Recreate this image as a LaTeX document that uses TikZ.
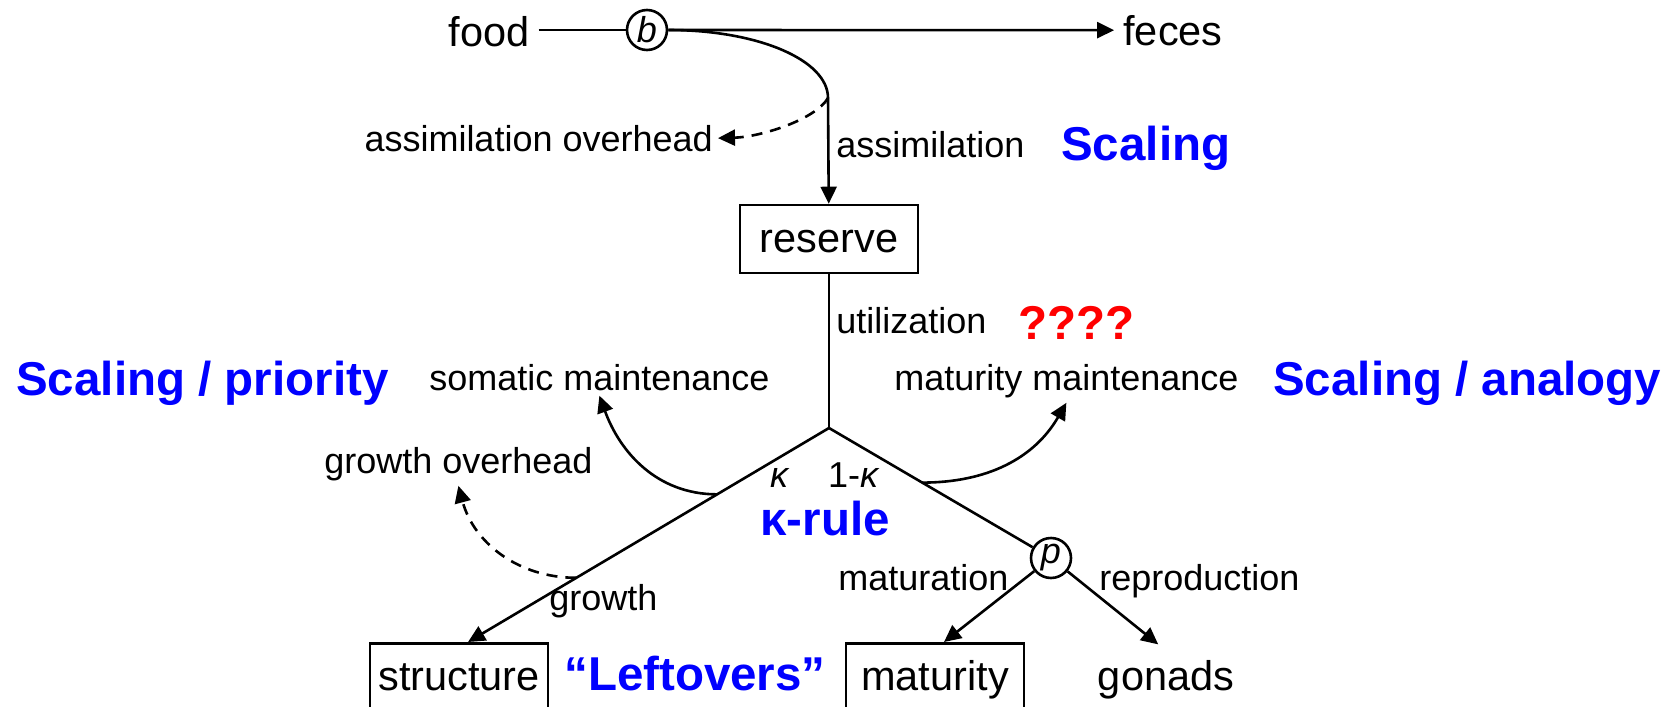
\documentclass[tikz,border=0pt]{standalone}
\usepackage{fontspec}
\setmainfont{Liberation Sans}
\usepackage{tikz}
\usetikzlibrary{arrows.meta,calc,positioning}

\begin{document}
\begin{tikzpicture}[x=0.5pt,y=0.5pt,line width=1.3pt,
  >={Triangle[length=8.5pt,width=8pt]},
  lbl/.style={font=\fontsize{18}{20}\selectfont,inner sep=2pt},
  big/.style={font=\fontsize{20.75}{24}\selectfont,inner sep=4pt},
  note/.style={font=\fontsize{23.75}{28}\selectfont\bfseries,text=blue,inner sep=0pt},
  stock/.style={draw,big,inner xsep=3pt,minimum width=89pt,minimum height=34pt,text height=15pt,text depth=2pt},
  junc/.style={draw,circle,minimum size=20pt,inner sep=0pt,font=\fontsize{18}{20}\selectfont\itshape},
  overhead/.style={dash pattern=on 5.5pt off 4pt}]
\clip (0,0) rectangle (1672,-707);
\node[big,anchor=base] (food) at (489,-46) {food};
\node[junc] (b) at (647,-30) {b};
\node[big,anchor=base] (feces) at (1173,-45) {feces};
\coordinate (asm) at (828,-98);
\node[stock] (reserve) at (829,-239) {reserve};
\node[lbl,anchor=base east] (asmovh) at (718,-151) {assimilation overhead};
\node[lbl,anchor=base west] (asmlbl) at (831,-157) {assimilation};
\node[note,anchor=base west] (scal) at (1060,-160) {Scaling};
\node[lbl,anchor=base west] (util) at (831,-333) {utilization};
\node[note,text=red,anchor=base west] (unknown) at (1017,-339) {????};
\node[lbl,anchor=base west] (soma) at (424,-390) {somatic maintenance};
\node[lbl,anchor=base west] (matm) at (889,-390) {maturity maintenance};
\node[note,anchor=base west] (prio) at (15,-395) {Scaling / priority};
\node[note,anchor=base west] (analogy) at (1272,-395) {Scaling / analogy};
\node[lbl,anchor=base west] (govh) at (319,-473) {growth overhead};
\coordinate (apex) at (829,-428);
\node[lbl,anchor=base] (kap) at (779,-487) {\itshape κ};
\node[lbl,anchor=base] (onekap) at (853,-487) {1-{\itshape κ}};
\node[note,anchor=base] (krule) at (825,-535) {κ-rule};
\node[junc] (p) at (1051,-558) {p};
\node[lbl,anchor=base west] (grow) at (544,-610) {growth};
\node[lbl,anchor=base west] (matu) at (833,-590) {maturation};
\node[lbl,anchor=base west] (repr) at (1094,-590) {reproduction};
\node[stock,anchor=north] (struct) at (459,-642) {structure};
\node[stock,anchor=north] (maturity) at (935,-642) {maturity};
\node[big,anchor=base] (gonads) at (1166,-690) {gonads};
\node[note,anchor=base west] (leftover) at (563,-690) {“Leftovers”};

\draw (food.east |- b) -- (b);
\draw[->] (b) -- (feces);
\draw[->] (b.east) .. controls (758,-30) and (828,-60) .. (asm) -- (reserve);
\draw[overhead,->] (asm) .. controls (815,-120) and (760,-137) .. (asmovh.east);
\draw (reserve) -- (apex);
\coordinate (gtip) at ($(struct.north west)!.55!(struct.north east)$);
\draw[->] (apex) -- (gtip);
\draw (apex) -- (p);
\draw[->] (p) -- ($(maturity.north west)!.55!(maturity.north east)$);
\draw[->,shorten >=5pt] (p) -- (gonads.north);
\coordinate (somat) at ($(apex)!.31!(gtip)$);
\coordinate (matur) at ($(apex)!.42!(p)$);
\coordinate (gover) at ($(apex)!.70!(gtip)$);
\draw[->] (somat) to[out=180,in=-70] (soma.south);
\draw[->] (matur) to[out=0,in=-120] (matm.south);
\draw[overhead,->] (gover) to[out=180,in=-75] (govh.south);
\end{tikzpicture}
\end{document}
